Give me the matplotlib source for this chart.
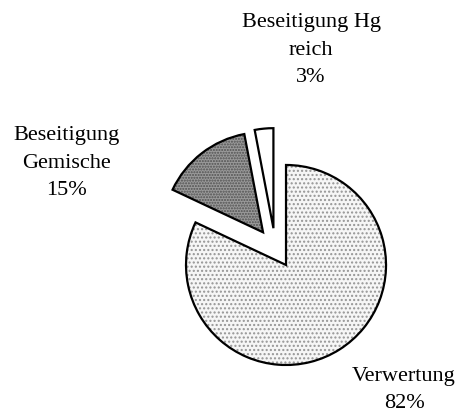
import matplotlib
matplotlib.use("Agg")
import matplotlib.pyplot as plt

# Data
categories = ["Verwertung", "Beseitigung\nGemische", "Beseitigung Hg\nreich"]
values = [82, 15, 3]
pct_labels = ["82%", "15%", "3%"]

# Styling (not data)
face_colors = ["#f6f6f6", "#9a9a9a", "#ffffff"]
hatch_colors = ["#959595", "#505050", "#ffffff"]
hatches = ["....", "......", ""]
center = (275.3, 163.9)
radius = 100
explode = [0.2 * radius] * 3   # matplotlib explode offset is in data units
label_pos = [(404, 22), (66, 249), (311, 362)]

plt.rcParams['font.family'] = ['Liberation Serif', 'DejaVu Serif']

fig = plt.figure(figsize=(4.61, 4.12), dpi=100)
ax = fig.add_axes([0, 0, 1, 1])

# fill + hatch layer
wedges, _ = ax.pie(values, explode=explode, startangle=90, counterclock=False,
                   center=center, radius=radius, colors=face_colors,
                   wedgeprops=dict(linewidth=0), frame=False)
for w, h, hc in zip(wedges, hatches, hatch_colors):
    w.set_edgecolor(hc)
    w.set_hatch(h)
    w.set_linewidth(0)

# outline layer
ax.pie(values, explode=explode, startangle=90, counterclock=False,
       center=center, radius=radius,
       wedgeprops=dict(fill=False, edgecolor='black', linewidth=1.6),
       frame=False)

ax.set_xlim(0, 461)
ax.set_ylim(0, 412)
ax.set_aspect('equal')
ax.axis('off')

for cat, pct, (x, y) in zip(categories, pct_labels, label_pos):
    ax.text(x, y, f"{cat}\n{pct}", ha='center', va='center', fontsize=16,
            linespacing=1.62, color='black')

fig.savefig("out.png", dpi=100)
